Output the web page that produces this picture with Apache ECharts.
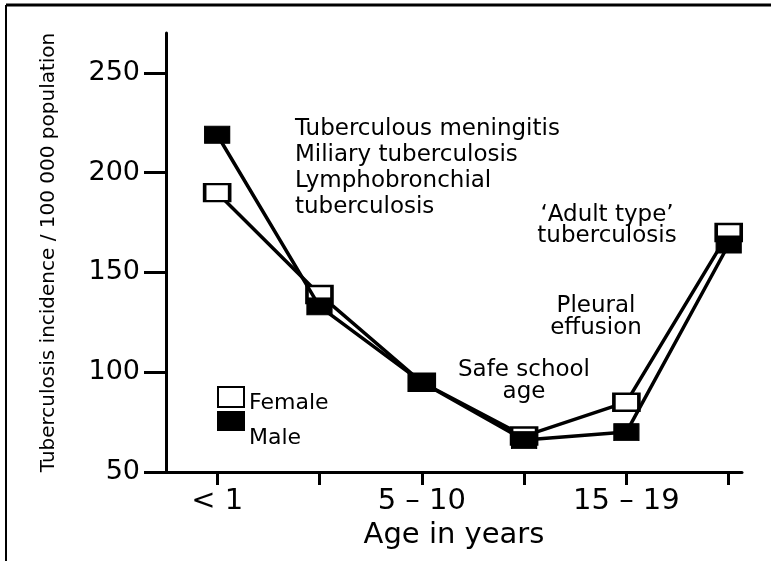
<!DOCTYPE html>
<html lang="en" style="height: 100%">
<head>
    <meta charset="UTF-8">
    <title>Tuberculosis incidence by age</title>
    <script src="https://cdn.jsdelivr.net/npm/echarts@6/dist/echarts.min.js"></script>
</head>
<body style="height: 100%; margin: 0; background: #fff">
<div id="container" style="width: 771px; height: 561px"></div>
<script type="text/javascript">
    var ageLabels = ['< 1', '', '5 – 10', '', '15 – 19', ''];
    var female = [190, 139, 95, 68, 85, 170];
    var male = [219, 133, 95, 66, 70, 164];
    var yTicks = [50, 100, 150, 200, 250];
    var labelledAges = [0, 2, 4];

    var font = 'DejaVu Sans';
    var myChart = echarts.init(document.getElementById('container'));

    function toPoints(arr) {
        return arr.map(function (v, i) { return [i, v]; });
    }

    // legend text sits a little below its box in the original
    function legendItem(name, top, h, shift) {
        return {
            data: [name],
            left: 217, top: top, padding: 0,
            icon: 'rect', itemWidth: 26, itemHeight: h,
            formatter: '{a|{name}}',
            textStyle: {
                fontFamily: font, fontSize: 22, color: '#000',
                rich: { a: { fontFamily: font, fontSize: 22, color: '#000', padding: [shift, 0, 0, 0] } }
            }
        };
    }

    var option = {
        backgroundColor: '#fff',
        animation: false,
        grid: { left: 166, right: 29, top: 33, bottom: 89 },
        legend: [legendItem('Female', 386, 20, 12), legendItem('Male', 411, 18, 34)],
        xAxis: {
            type: 'value',
            min: -0.5, max: 5.13,
            name: 'Age in years',
            nameLocation: 'middle',
            nameGap: 42,
            nameTextStyle: { fontFamily: font, fontSize: 29, color: '#000' },
            axisLine: { onZero: false, lineStyle: { color: '#000', width: 3 } },
            axisTick: { show: true, customValues: [0, 1, 2, 3, 4, 5], length: 13, lineStyle: { color: '#000', width: 3 } },
            axisLabel: {
                customValues: labelledAges,
                margin: 15,
                fontFamily: font, fontSize: 29, color: '#000',
                formatter: function (v) { return ageLabels[Math.round(v)]; }
            },
            splitLine: { show: false }
        },
        yAxis: {
            type: 'value',
            min: 50, max: 270,
            name: 'Tuberculosis incidence / 100 000 population',
            nameLocation: 'middle',
            nameRotate: 90,
            nameGap: 107,
            nameTextStyle: { fontFamily: font, fontSize: 20, color: '#000' },
            axisLine: { show: true, onZero: false, lineStyle: { color: '#000', width: 3 } },
            axisTick: { show: true, customValues: yTicks, length: 22, lineStyle: { color: '#000', width: 3 } },
            axisLabel: { customValues: yTicks, margin: 26, fontFamily: font, fontSize: 27, color: '#000' },
            splitLine: { show: false }
        },
        series: [{
            name: 'Female',
            type: 'line',
            data: toPoints(female),
            symbol: 'rect',
            symbolSize: [25, 17],
            lineStyle: { color: '#000', width: 3.5 },
            itemStyle: { color: '#fff', borderColor: '#000', borderWidth: 3 },
            z: 2
        }, {
            name: 'Male',
            type: 'line',
            data: toPoints(male),
            symbol: 'rect',
            symbolSize: [25, 17],
            lineStyle: { color: '#000', width: 3.5 },
            itemStyle: { color: '#000', borderColor: '#000', borderWidth: 1 },
            z: 3
        }],
        graphic: [
            { type: 'line', shape: { x1: 6, y1: 5, x2: 771, y2: 5 }, style: { stroke: '#000', lineWidth: 3 } },
            { type: 'line', shape: { x1: 6, y1: 5, x2: 6, y2: 561 }, style: { stroke: '#000', lineWidth: 2 } },
            {
                type: 'text', left: 295, top: 116,
                style: {
                    text: 'Tuberculous meningitis\nMiliary tuberculosis\nLymphobronchial\ntuberculosis',
                    fontFamily: font, fontSize: 23, lineHeight: 26, fill: '#000'
                }
            },
            {
                type: 'text', x: 607, y: 205,
                style: {
                    text: '‘Adult type’\ntuberculosis', textAlign: 'center',
                    fontFamily: font, fontSize: 23, lineHeight: 21, fill: '#000'
                }
            },
            {
                type: 'text', x: 596, y: 295,
                style: {
                    text: 'Pleural\neffusion', textAlign: 'center',
                    fontFamily: font, fontSize: 23, lineHeight: 22, fill: '#000'
                }
            },
            {
                type: 'text', x: 524, y: 359,
                style: {
                    text: 'Safe school\nage', textAlign: 'center',
                    fontFamily: font, fontSize: 23, lineHeight: 22, fill: '#000'
                }
            }
        ]
    };

    myChart.setOption(option);
</script>
</body>
</html>
